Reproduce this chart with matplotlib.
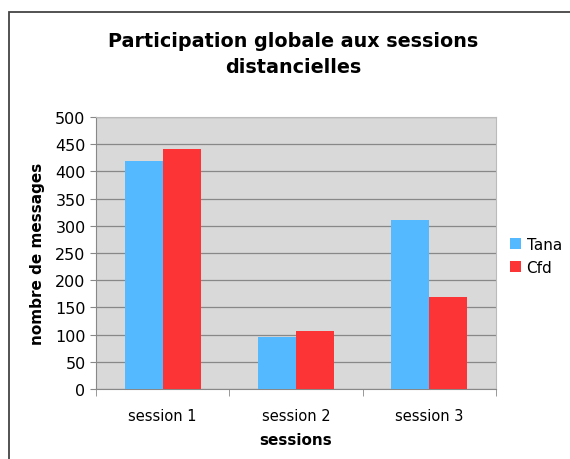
import matplotlib.pyplot as plt
import numpy as np
from matplotlib.patches import Rectangle

sessions = ['session 1', 'session 2', 'session 3']
tana = [419, 96, 311]
cfd = [441, 107, 169]
yticks = [0, 50, 100, 150, 200, 250, 300, 350, 400, 450, 500]

fig = plt.figure(figsize=(5.7, 4.6), dpi=100)
# outer frame of the chart
fig.patches.append(Rectangle((9 / 570, -0.1), 1.2, 1.1 - 13 / 460,
                             transform=fig.transFigure, fill=False,
                             edgecolor='#444444', linewidth=1.3))
ax = fig.add_axes([96 / 570, 70 / 460, 400 / 570, 272 / 460])
ax.set_facecolor('#d9d9d9')

x = np.arange(len(sessions))
w = 0.285
ax.bar(x - w / 2, tana, w, color='#55b9ff', label='Tana', zorder=3)
ax.bar(x + w / 2, cfd, w, color='#fd3436', label='Cfd', zorder=3)

ax.set_xlim(-0.5, 2.5)
ax.set_ylim(0, 500)
ax.set_yticks(yticks)
ax.set_xticks(x)
ax.set_xticklabels(sessions, fontsize=10.5)
ax.tick_params(axis='y', labelsize=11.5, length=4, color='#888888')
ax.tick_params(axis='x', length=0, pad=14)
ax.set_xticks([-0.5, 0.5, 1.5, 2.5], minor=True)
ax.tick_params(axis='x', which='minor', length=5, color='#888888')
ax.grid(axis='y', color='#888888', linewidth=0.9, zorder=0)
for s in ['top', 'right']:
    ax.spines[s].set_color('#bbbbbb')
for s in ['left', 'bottom']:
    ax.spines[s].set_color('#888888')

ax.set_xlabel('sessions', fontsize=11, fontweight='bold', labelpad=6)
ax.set_ylabel('nombre de messages', fontsize=11, fontweight='bold', labelpad=7)
fig.text(0.515, 0.882, 'Participation globale aux sessions\ndistancielles',
         ha='center', va='center', fontsize=13.8, fontweight='bold',
         linespacing=1.45)
ax.legend(loc='center left', bbox_to_anchor=(1.0, 0.49), frameon=False,
          fontsize=11, handlelength=0.75, handleheight=0.75,
          handletextpad=0.35, labelspacing=0.55)

fig.savefig('out.png')
